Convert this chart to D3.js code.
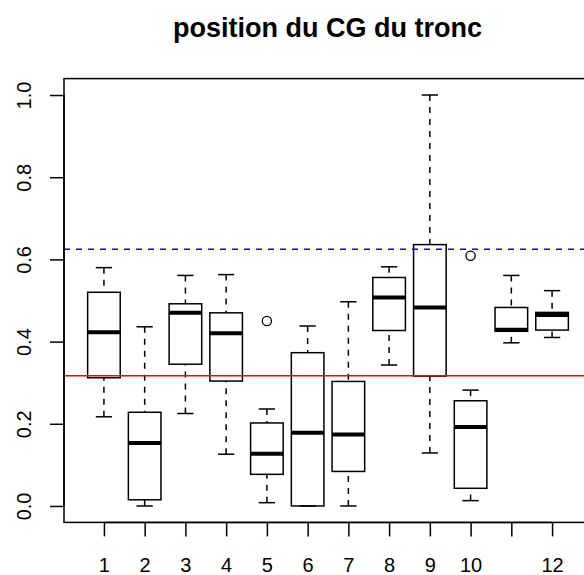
<!DOCTYPE html>
<html>
<head>
<meta charset="utf-8">
<script src="https://cdn.jsdelivr.net/npm/d3@7"></script>
<style>
  body { margin: 0; background: #fff; }
  svg { display: block; font-family: "Liberation Sans", Arial, sans-serif; }
</style>
</head>
<body>
<div id="chart"></div>
<script>
// values
const groups = [1, 2, 3, 4, 5, 6, 7, 8, 9, 10, 11, 12];
const lowerWhisker = [0.217, 0.000, 0.225, 0.126, 0.008, 0.000, 0.000, 0.343, 0.129, 0.013, 0.397, 0.410];
const q1 = [0.312, 0.015, 0.345, 0.304, 0.077, 0.000, 0.084, 0.427, 0.316, 0.043, 0.425, 0.428];
const medians = [0.423, 0.153, 0.470, 0.420, 0.127, 0.178, 0.174, 0.507, 0.483, 0.192, 0.429, 0.465];
const q3 = [0.520, 0.228, 0.492, 0.470, 0.202, 0.373, 0.303, 0.556, 0.636, 0.256, 0.483, 0.471];
const upperWhisker = [0.580, 0.436, 0.561, 0.563, 0.236, 0.438, 0.497, 0.582, 1.000, 0.282, 0.561, 0.524];
const outlierGroups = [5, 10];
const outlierValues = [0.450, 0.609];
const yTicks = [0.0, 0.2, 0.4, 0.6, 0.8, 1.0];
const xTickLabels = ['1', '2', '3', '4', '5', '6', '7', '8', '9', '10', '', '12'];
const redLine = 0.317;
const blueLine = 0.625;
const title = 'position du CG du tronc';

const width = 584, height = 575;
const margin = { left: 64, top: 78.6, right: -8, bottom: 52.6 };

const svg = d3.select('#chart').append('svg')
  .attr('width', width)
  .attr('height', height);

const x = d3.scaleLinear()
  .domain([0.02, 12.98])
  .range([margin.left, width - margin.right]);

const y = d3.scaleLinear()
  .domain([-0.04, 1.04])
  .range([height - margin.bottom, margin.top]);

const bw = x(0.4) - x(0); // half box width
const cw = x(0.2) - x(0); // half staple width

svg.append('clipPath').attr('id', 'plotclip')
  .append('rect')
  .attr('x', x.range()[0]).attr('y', y.range()[1])
  .attr('width', x.range()[1] - x.range()[0])
  .attr('height', y.range()[0] - y.range()[1]);

const boxes = groups.map((g, i) => ({
  g, lo: lowerWhisker[i], q1: q1[i], med: medians[i], q3: q3[i], hi: upperWhisker[i]
}));

const plot = svg.append('g').attr('clip-path', 'url(#plotclip)');

const box = plot.selectAll('.box')
  .data(boxes)
  .enter().append('g')
  .attr('class', 'box');

//whiskers are drawn from the whisker end to the box, like R does
box.append('line')
  .attr('x1', d => x(d.g)).attr('x2', d => x(d.g))
  .attr('y1', d => y(d.hi)).attr('y2', d => y(d.q3))
  .attr('stroke', '#000').attr('stroke-width', 1.5)
  .attr('stroke-dasharray', '6,6');

box.append('line')
  .attr('x1', d => x(d.g)).attr('x2', d => x(d.g))
  .attr('y1', d => y(d.lo)).attr('y2', d => y(d.q1))
  .attr('stroke', '#000').attr('stroke-width', 1.5)
  .attr('stroke-dasharray', '6,6');

['hi', 'lo'].forEach(k => {
  box.append('line')
    .attr('x1', d => x(d.g) - cw).attr('x2', d => x(d.g) + cw)
    .attr('y1', d => y(d[k])).attr('y2', d => y(d[k]))
    .attr('stroke', '#000').attr('stroke-width', 1.5);
});

box.append('rect')
  .attr('x', d => x(d.g) - bw)
  .attr('y', d => y(d.q3))
  .attr('width', 2 * bw)
  .attr('height', d => y(d.q1) - y(d.q3))
  .attr('fill', 'none')
  .attr('stroke', '#000').attr('stroke-width', 1.5);

box.append('line')
  .attr('x1', d => x(d.g) - bw).attr('x2', d => x(d.g) + bw)
  .attr('y1', d => y(d.med)).attr('y2', d => y(d.med))
  .attr('stroke', '#000').attr('stroke-width', 4);

plot.selectAll('.outlier')
  .data(outlierGroups.map((g, i) => [g, outlierValues[i]]))
  .enter().append('circle')
  .attr('class', 'outlier')
  .attr('cx', d => x(d[0]))
  .attr('cy', d => y(d[1]))
  .attr('r', 4.6)
  .attr('fill', 'none')
  .attr('stroke', '#000').attr('stroke-width', 1.3);

//reference lines (abline)
plot.append('line')
  .attr('x1', x.range()[0]).attr('x2', x.range()[1])
  .attr('y1', y(redLine)).attr('y2', y(redLine))
  .attr('stroke', '#ff0000').attr('stroke-width', 1.5);

plot.append('line')
  .attr('x1', x.range()[0]).attr('x2', x.range()[1])
  .attr('y1', y(blueLine)).attr('y2', y(blueLine))
  .attr('stroke', '#0000ff').attr('stroke-width', 1.5)
  .attr('stroke-dasharray', '6,6');

//frame
svg.append('rect')
  .attr('x', x.range()[0]).attr('y', y.range()[1])
  .attr('width', x.range()[1] - x.range()[0])
  .attr('height', y.range()[0] - y.range()[1])
  .attr('fill', 'none')
  .attr('stroke', '#000').attr('stroke-width', 1.5);

//axes
const xAxis = svg.append('g')
  .attr('class', 'axis axis-x')
  .attr('transform', 'translate(0,' + y.range()[0] + ')')
  .call(d3.axisBottom(x)
    .tickValues(groups)
    .tickSize(14)
    .tickSizeOuter(0)
    .tickFormat((d, i) => xTickLabels[i]));

xAxis.select('.domain')
  .attr('d', 'M' + x(1) + ',0H' + x(12))
  .attr('stroke-width', 1.5);

xAxis.selectAll('.tick line').attr('stroke-width', 1.5);
xAxis.selectAll('.tick text')
  .attr('y', 50)
  .attr('dy', 0)
  .style('font-size', '20px')
  .style('font-family', '"Liberation Sans", Arial, sans-serif')
  .attr('fill', '#000');

const yAxis = svg.append('g')
  .attr('class', 'axis axis-y')
  .attr('transform', 'translate(' + x.range()[0] + ',0)')
  .call(d3.axisLeft(y)
    .tickValues(yTicks)
    .tickSize(14)
    .tickSizeOuter(0)
    .tickFormat(d3.format('.1f')));

yAxis.select('.domain')
  .attr('d', 'M0,' + y(0) + 'V' + y(1))
  .attr('stroke-width', 1.5);

yAxis.selectAll('.tick line').attr('stroke-width', 1.5);
yAxis.selectAll('.tick text')
  .attr('x', 0)
  .attr('dy', 0)
  .attr('transform', 'translate(-33,0) rotate(-90)')
  .attr('text-anchor', 'middle')
  .style('font-size', '20px')
  .style('font-family', '"Liberation Sans", Arial, sans-serif')
  .attr('fill', '#000');

svg.append('text')
  .attr('x', 327.5)
  .attr('y', 37)
  .attr('text-anchor', 'middle')
  .style('font-size', '27px')
  .style('font-weight', 'bold')
  .text(title);
</script>
</body>
</html>
